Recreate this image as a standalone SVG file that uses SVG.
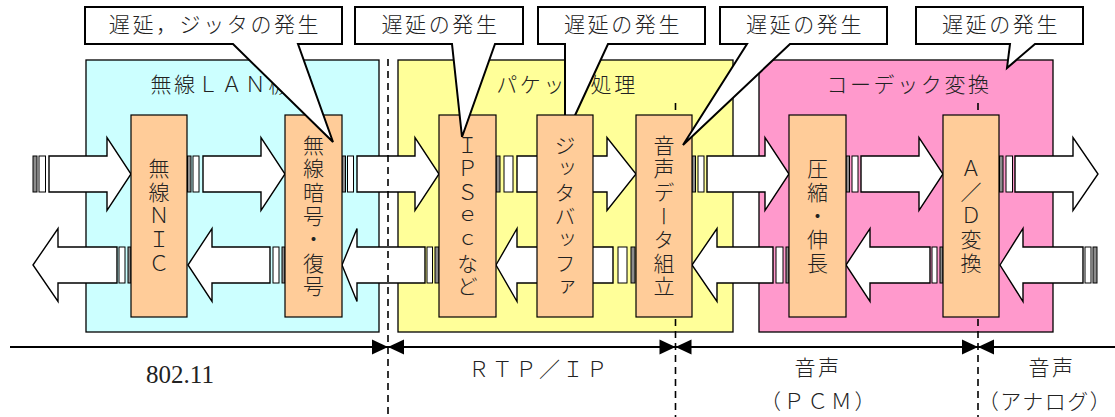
<svg xmlns="http://www.w3.org/2000/svg" width="1115" height="417" viewBox="0 0 1115 417">
<style>
.reg{stroke:#000;stroke-width:1.3}
.blk{fill:#FFCC99;stroke:#000;stroke-width:1.2}
.arr{fill:#fff;stroke:#000;stroke-width:1.4;stroke-linejoin:miter}
.gb{fill:#8c8c8c;stroke:#000;stroke-width:1}
.wb{fill:#fff;stroke:#000;stroke-width:1}
.co{fill:#fff;stroke:#000;stroke-width:2;stroke-linejoin:miter}
.dash{stroke:#000;stroke-width:1.6;stroke-dasharray:7 5;fill:none}
.jp{font-family:"Noto Sans CJK JP","Liberation Serif",sans-serif;font-size:21px;font-weight:300;letter-spacing:2.6px;fill:#222}
.vt{writing-mode:vertical-rl;text-anchor:middle}
.mid{text-anchor:middle}
.lat{font-family:"Liberation Serif",serif;font-size:25px;fill:#222}
</style>

<g id="regions">
<g id="region-wlan"><rect class="reg" x="86" y="60" width="293" height="272" fill="#CCFFFF"/><text class="jp mid" x="233" y="92">無線ＬＡＮ機能</text></g>
<g id="region-packet"><rect class="reg" x="398" y="60" width="335" height="272" fill="#FFFF99"/><text class="jp mid" x="567" y="92">パケット処理</text></g>
<g id="region-codec"><rect class="reg" x="759" y="60" width="294" height="272" fill="#FF99CC"/><text class="jp mid" x="909" y="92">コーデック変換</text></g>
</g>

<g id="dividers-back">
<line class="dash" x1="675.5" y1="103" x2="675.5" y2="417"/>
<line class="dash" x1="978" y1="103" x2="978" y2="417"/>
</g>

<g id="connectors">
<rect class="gb" x="33" y="156" width="4" height="36"/><rect class="wb" x="39" y="156" width="6.5" height="36"/>
<polygon class="arr" points="49,156 107,156 107,137.5 131,174 107,210.5 107,192 49,192"/>
<rect class="gb" x="187.5" y="156" width="3.5" height="36"/><rect class="wb" x="193" y="156" width="6" height="36"/>
<polygon class="arr" points="203,156 261,156 261,137.5 285,174 261,210.5 261,192 203,192"/>
<rect class="gb" x="342" y="156" width="3.5" height="36"/><rect class="wb" x="347.5" y="156" width="6" height="36"/>
<polygon class="arr" points="357,156 415,156 415,137.5 439,174 415,210.5 415,192 357,192"/>
<rect class="gb" x="496" y="156" width="4" height="36"/><rect class="wb" x="504" y="156" width="9" height="36"/>
<polygon class="arr" points="517,156 607,156 607,137.5 636,174 607,210.5 607,192 517,192"/>
<rect class="gb" x="692" y="156" width="3.5" height="36"/><rect class="wb" x="698" y="156" width="6" height="36"/>
<polygon class="arr" points="707,156 765,156 765,137.5 789,174 765,210.5 765,192 707,192"/>
<rect class="gb" x="846" y="156" width="3.5" height="36"/><rect class="wb" x="852" y="156" width="6" height="36"/>
<polygon class="arr" points="861,156 919,156 919,137.5 943,174 919,210.5 919,192 861,192"/>
<rect class="gb" x="999.5" y="156" width="3.5" height="36"/><rect class="wb" x="1006" y="156" width="6.5" height="36"/>
<polygon class="arr" points="1015,156 1073,156 1073,137.5 1098,174 1073,210.5 1073,192 1015,192"/>
<polygon class="arr" points="33,265 58,228.5 58,247 117,247 117,283 58,283 58,301.5"/>
<rect class="wb" x="119" y="247" width="6" height="36"/><rect class="gb" x="128" y="247" width="3" height="36"/>
<polygon class="arr" points="188,265 212,228.5 212,247 270,247 270,283 212,283 212,301.5"/>
<rect class="wb" x="273" y="247" width="6" height="36"/><rect class="gb" x="282" y="247" width="3" height="36"/>
<polygon class="arr" points="342,265 357,228.5 357,247 425,247 425,283 357,283 357,301.5"/>
<rect class="wb" x="427" y="247" width="5.5" height="36"/><rect class="gb" x="435" y="247" width="4" height="36"/>
<polygon class="arr" points="496,265 517,228.5 517,247 613,247 613,283 517,283 517,301.5"/>
<rect class="wb" x="618" y="247" width="9" height="36"/><rect class="gb" x="631" y="247" width="4" height="36"/>
<polygon class="arr" points="692,265 717,228.5 717,247 773,247 773,283 717,283 717,301.5"/>
<rect class="wb" x="776" y="247" width="7" height="36"/><rect class="gb" x="786" y="247" width="3" height="36"/>
<polygon class="arr" points="846,265 870,228.5 870,247 930,247 930,283 870,283 870,301.5"/>
<rect class="wb" x="932" y="247" width="5" height="36"/><rect class="gb" x="940" y="247" width="3" height="36"/>
<polygon class="arr" points="1000,265 1023,228.5 1023,247 1083,247 1083,283 1023,283 1023,301.5"/>
<rect class="wb" x="1085" y="247" width="6" height="36"/><rect class="gb" x="1093" y="247" width="4" height="36"/>
</g>

<g id="callout-jitter"><path class="co" d="M538,7 H705 V44 H608 L565,137 L565,44 H538 Z"/><text class="jp mid" x="623" y="32">遅延の発生</text></g>

<g id="blocks">
<g id="blk-nic"><rect class="blk" x="131" y="115" width="56" height="202"/><text class="jp vt" x="159" y="217">無線ＮＩＣ</text></g>
<g id="blk-crypt"><rect class="blk" x="285" y="115" width="57" height="202"/><text class="jp vt" x="313.5" y="217">無線暗号・復号</text></g>
<g id="blk-ipsec"><rect class="blk" x="439" y="115" width="57" height="202"/><text class="jp vt" x="467.5" y="217">ＩＰＳｅｃなど</text></g>
<g id="blk-jitter"><rect class="blk" x="537" y="115" width="56" height="202"/><text class="jp vt" x="565" y="217">ジッタバッファ</text></g>
<g id="blk-voice"><rect class="blk" x="636" y="115" width="56" height="202"/><text class="jp vt" x="664" y="217">音声データ組立</text></g>
<g id="blk-comp"><rect class="blk" x="789" y="115" width="57" height="202"/><text class="jp vt" x="817.5" y="217">圧縮・伸長</text></g>
<g id="blk-ad"><rect class="blk" x="943" y="115" width="56" height="202"/><text class="jp vt" x="971" y="217">Ａ／Ｄ変換</text></g>
</g>

<g id="callouts">
<g id="callout-wlan"><path class="co" d="M85,7 H342 V44 H298 L333,142 L233,44 H85 Z"/><text class="jp mid" x="215" y="32">遅延，ジッタの発生</text></g>
<g id="callout-ipsec"><path class="co" d="M355,7 H523 V44 H495 L462,137 L452,44 H355 Z"/><text class="jp mid" x="440.5" y="32">遅延の発生</text></g>
<g id="callout-voice"><path class="co" d="M720,7 H887 V44 H790 L683,145 L747,44 H720 Z"/><text class="jp mid" x="805" y="32">遅延の発生</text></g>
<g id="callout-codec"><path class="co" d="M916,7 H1083 V44 H1035 L1007,68 L1010,44 H916 Z"/><text class="jp mid" x="1001" y="32">遅延の発生</text></g>
</g>

<g id="divider-front"><line class="dash" x1="388" y1="59" x2="388" y2="417"/></g>

<g id="axis">
<line x1="10" y1="347" x2="1115" y2="347" stroke="#000" stroke-width="2"/>
<polygon points="372,339.5 388,347 372,354.5" fill="#000"/>
<polygon points="404,339.5 388,347 404,354.5" fill="#000"/>
<polygon points="659.5,339.5 675.5,347 659.5,354.5" fill="#000"/>
<polygon points="691.5,339.5 675.5,347 691.5,354.5" fill="#000"/>
<polygon points="962,339.5 978,347 962,354.5" fill="#000"/>
<polygon points="994,339.5 978,347 994,354.5" fill="#000"/>
<text class="lat mid" x="180" y="383">802.11</text>
<text class="jp mid" x="539" y="377">ＲＴＰ／ＩＰ</text>
<text class="jp mid" x="818" y="375">音声</text>
<text class="jp mid" x="819" y="409">（ＰＣＭ）</text>
<text class="jp mid" x="1052" y="375">音声</text>
<text class="jp mid" x="1045" y="409" style="letter-spacing:1.5px">（アナログ）</text>
</g>
</svg>
